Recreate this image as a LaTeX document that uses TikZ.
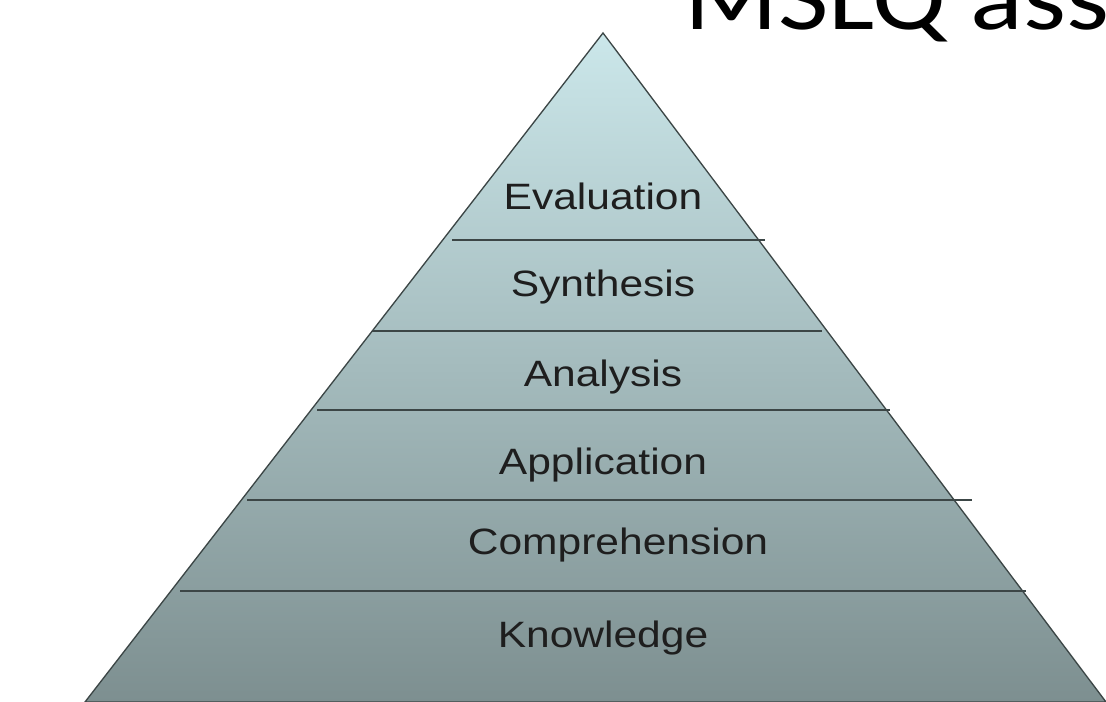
\documentclass[tikz,border=0pt]{standalone}
\usepackage{fontspec}
\usepackage{tikz}
\newfontfamily\levelfont[FakeStretch=1.16]{Liberation Sans}
\newfontfamily\titlefont[FakeStretch=1.16]{Carlito}
\definecolor{apex}{RGB}{203,231,234}
\definecolor{base}{RGB}{125,143,144}
\definecolor{rule}{RGB}{60,70,70}
\definecolor{ink}{RGB}{30,30,30}
\tikzset{
  level/.style={anchor=base, inner sep=0pt, text=ink, font=\levelfont\fontsize{27.5}{32}\selectfont},
  divider/.style={draw=rule, line width=1.5pt}
}

\begin{document}
\begin{tikzpicture}[x=0.75pt, y=0.75pt]
            \useasboundingbox (0,0) rectangle (1106,702);

            \draw[draw=rule, line width=1pt, top color=apex, bottom color=base] (603,669) -- (85,0) -- (1106,0) -- cycle;

            \draw[divider] (452,462) -- (765,462);
            \draw[divider] (372,371) -- (822,371);
            \draw[divider] (317,292) -- (890,292);
            \draw[divider] (247,202) -- (972,202);
            \draw[divider] (180,111) -- (1026,111);

            \node[level] (evaluation) at (603,492) {Evaluation};
            \node[level] (synthesis) at (603,405) {Synthesis};
            \node[level] (analysis) at (603,315) {Analysis};
            \node[level] (application) at (603,227) {Application};
            \node[level] (comprehension) at (618,147) {Comprehension};
            \node[level] (knowledge) at (603,54) {Knowledge};

            \node[anchor=base west, inner sep=0pt, font=\titlefont\fontsize{71}{80}\selectfont] (title) at (684,672) {MSLQ ass};
        \end{tikzpicture}
\end{document}
